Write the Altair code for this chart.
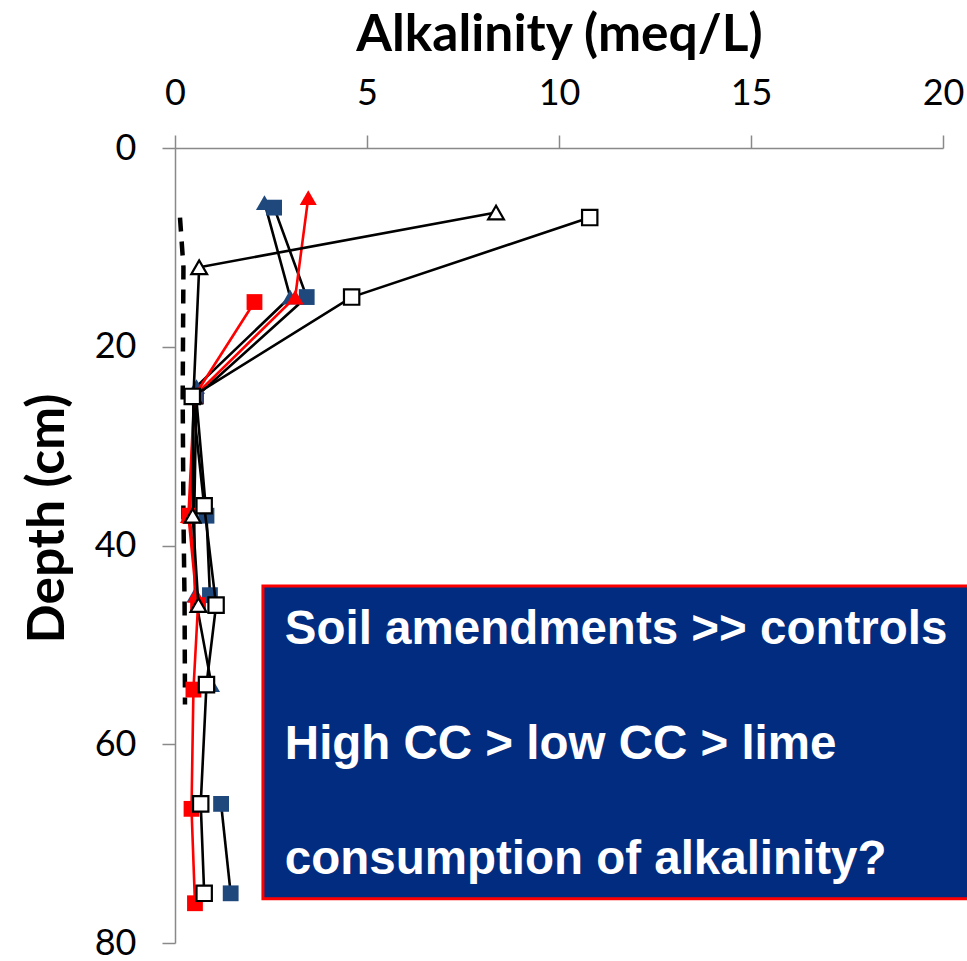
import altair as alt
import pandas as pd

# ---- data ----
# open squares (black line)
ws_depth = [7, 15, 25, 36, 46, 54, 66, 75]
ws_alk = [10.8, 4.6, 0.45, 0.76, 1.07, 0.82, 0.67, 0.76]
# open triangles (black line)
wt_depth = [6.5, 12, 25, 37, 46]
wt_alk = [8.36, 0.63, 0.48, 0.46, 0.61]
# navy squares (black line, gap at 54 cm)
bs_depth = [6, 15, 25, 37, 45, 66, 75]
bs_alk = [2.58, 3.43, 0.55, 0.82, 0.91, 1.2, 1.45]
bs_seg = [1, 1, 1, 1, 1, 2, 2]
# navy triangles (black line)
bt_depth = [5.5, 15, 24, 37, 45, 54]
bt_alk = [2.33, 3.0, 0.56, 0.5, 0.52, 0.95]
# red triangles (red line)
rt_depth = [5, 15, 25, 37, 45]
rt_alk = [3.47, 3.13, 0.5, 0.35, 0.55]
# red squares (red line)
rs_depth = [15.5, 25, 37, 46, 54.5, 66.5, 76]
rs_alk = [2.07, 0.5, 0.38, 0.6, 0.48, 0.43, 0.52]
# dashed control line
ctl_depth = [7, 12, 25, 37, 46, 56]
ctl_alk = [0.13, 0.22, 0.2, 0.22, 0.25, 0.26]

box_lines = ["Soil amendments >> controls", "High CC > low CC > lime", "consumption of alkalinity?"]

NAVY = "#1F497D"
RED = "#FF0000"
BOXBLUE = "#022C80"

xenc = alt.X("alk:Q",
             scale=alt.Scale(domain=[0, 20], nice=False, zero=True),
             axis=alt.Axis(orient="top", values=[0, 5, 10, 15, 20], grid=False,
                           title="Alkalinity (meq/L)", titleFontSize=51.5, titleFont="Lato",
                           titleFontWeight="bold", titleColor="black", titlePadding=14,
                           labelFont="Lato", labelFontSize=36, labelColor="black",
                           labelPadding=23, labelFlush=False, tickSize=13, tickColor="#898989",
                           domainColor="#898989", domainWidth=1.5, tickWidth=1.5))
yenc = alt.Y("depth:Q",
             scale=alt.Scale(domain=[0, 80], reverse=True, nice=False),
             axis=alt.Axis(orient="left", values=[0, 20, 40, 60, 80], grid=False,
                           title="Depth (cm)", titleFontSize=51.5, titleFont="Lato",
                           titleFontWeight="bold", titleColor="black", titlePadding=20,
                           titleY=370,
                           labelFont="Lato", labelFontSize=36, labelColor="black",
                           labelPadding=26, labelFlush=False, tickSize=13, tickColor="#898989",
                           domainColor="#898989", domainWidth=1.5, tickWidth=1.5))


def series(depth, alk, line_color, shape, fill, stroke, size, seg=None):
    df = pd.DataFrame({"depth": depth, "alk": alk,
                       "seg": seg if seg is not None else [1] * len(depth)})
    base = alt.Chart(df)
    line = base.mark_line(color=line_color, strokeWidth=2.6).encode(
        x=xenc, y=yenc, order="depth:Q", detail="seg:N")
    pts = base.mark_point(shape=shape, filled=True, fill=fill, stroke=stroke,
                          strokeWidth=2.2 if stroke else 0, size=size, opacity=1).encode(
        x=xenc, y=yenc)
    return [line, pts]


ctl_df = pd.DataFrame({"depth": ctl_depth, "alk": ctl_alk})
ctl = alt.Chart(ctl_df).mark_line(color="black", strokeWidth=4.5, strokeDash=[14, 10]).encode(
    x=xenc, y=yenc, order="depth:Q")

layers = [ctl]
layers += series(bt_depth, bt_alk, "black", "triangle-up", NAVY, None, 290)
layers += series(bs_depth, bs_alk, "black", "square", NAVY, None, 250, bs_seg)
layers += series(rs_depth, rs_alk, RED, "square", RED, None, 250)
layers += series(rt_depth, rt_alk, RED, "triangle-up", RED, None, 290)
layers += series(wt_depth, wt_alk, "black", "triangle-up", "white", "black", 250)
layers += series(ws_depth, ws_alk, "black", "square", "white", "black", 235)

box = alt.Chart().mark_rect(fill=BOXBLUE, stroke=RED, strokeWidth=3).encode(
    x=alt.datum(2.29), x2=alt.datum(21), y=alt.datum(44.07), y2=alt.datum(75.55))
layers.append(box)

for txt, d in zip(box_lines, [48.5, 60.1, 71.6]):
    layers.append(alt.Chart().mark_text(
        text=txt, align="left", baseline="middle", font="Liberation Sans",
        fontWeight="bold", fontSize=47.5, color="white").encode(
        x=alt.datum(2.86), y=alt.datum(d)))

chart = alt.layer(*layers).properties(
    width=768, height=795,
    autosize=alt.AutoSizeParams(type="none"),
    padding={"left": 175, "top": 148, "right": 24, "bottom": 18},
    background="white",
).configure_view(stroke=None)

chart.save("out.html", embed_options={"renderer": "svg", "actions": False})
